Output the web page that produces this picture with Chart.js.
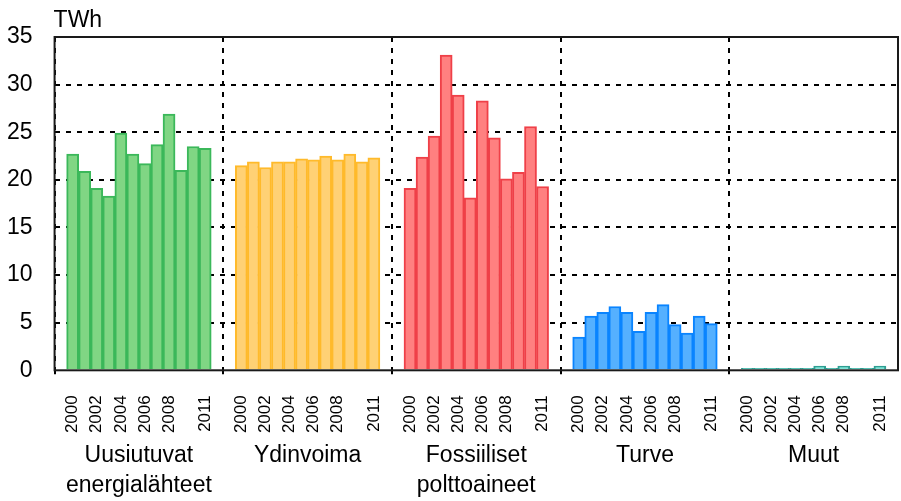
<!DOCTYPE html>
<html>
<head>
<meta charset="utf-8">
<script src="https://cdn.jsdelivr.net/npm/chart.js@4/dist/chart.umd.min.js"></script>
<style>
  html, body { margin: 0; padding: 0; background: #fff; }
  #wrap { width: 901px; height: 501px; }
</style>
</head>
<body>
<div id="wrap"><canvas id="energyChart"></canvas></div>
<script>
// vuodet ja ryhmät
var years = ['2000', '2001', '2002', '2003', '2004', '2005', '2006', '2007', '2008', '2009', '2010', '2011'];
var shownYears = ['2000', '2002', '2004', '2006', '2008', '2011'];
var groupNames = [['Uusiutuvat', 'energialähteet'], 'Ydinvoima', ['Fossiiliset', 'polttoaineet'], 'Turve', 'Muut'];

// TWh
var uusiutuvat  = [22.7, 20.9, 19.1, 18.3, 24.9, 22.7, 21.7, 23.7, 26.9, 21.0, 23.5, 23.3];
var ydinvoima   = [21.5, 21.9, 21.3, 21.9, 21.9, 22.2, 22.1, 22.5, 22.1, 22.7, 21.9, 22.3];
var fossiiliset = [19.1, 22.4, 24.6, 33.1, 28.9, 18.1, 28.3, 24.4, 20.1, 20.8, 25.6, 19.3];
var turve       = [3.5, 5.7, 6.1, 6.7, 6.1, 4.1, 6.1, 6.9, 4.8, 3.9, 5.7, 4.9];
var muut        = [0.2, 0.2, 0.2, 0.2, 0.2, 0.2, 0.45, 0.2, 0.45, 0.2, 0.2, 0.45];

var yTicks = [0, 5, 10, 15, 20, 25, 30, 35];

var series = [uusiutuvat, ydinvoima, fossiiliset, turve, muut];
var fills   = ['#80d684', '#ffd175', '#ff8080', '#55b0ff', '#7fe3d6'];
var borders = ['#3bb85a', '#ffba2b', '#ef4048', '#0a84ff', '#2e9e92'];

// each group: one empty slot, 12 years, one empty slot
var slots = years.length + 2;
var labels = [];
for (var g = 0; g < series.length; g++) {
    labels.push('');
    for (var i = 0; i < years.length; i++) labels.push(years[i]);
    labels.push('');
}

var datasets = [];
for (var g = 0; g < series.length; g++) {
    var d = [];
    for (var k = 0; k < labels.length; k++) d.push(null);
    for (var i = 0; i < years.length; i++) d[g * slots + 1 + i] = series[g][i];
    datasets.push({
        label: Array.isArray(groupNames[g]) ? groupNames[g].join(' ') : groupNames[g],
        data: d,
        backgroundColor: fills[g],
        borderColor: borders[g],
        borderWidth: 2,
        grouped: false,
        barPercentage: 1,
        categoryPercentage: 1
    });
}

// chart.js reserves tick padding twice, take one back
function fitX(scale) {
    scale.paddingLeft = 0;
    scale.paddingRight = 0;
    scale.height -= scale.options.ticks.padding;
}

var framePlugin = {
    id: 'frame',
    afterDraw: function(chart) {
        var a = chart.chartArea, ctx = chart.ctx;
        ctx.save();
        ctx.strokeStyle = '#1a1a1a';
        ctx.lineWidth = 2;
        ctx.strokeRect(a.left, a.top, a.right - a.left, a.bottom - a.top);
        ctx.fillStyle = '#000';
        ctx.font = '23px "Liberation Sans", Arial, sans-serif';
        ctx.textAlign = 'left';
        ctx.textBaseline = 'alphabetic';
        ctx.fillText('TWh', a.left - 1, 27);
        ctx.restore();
    }
};

var ctx = document.getElementById('energyChart');
var chart = new Chart(ctx, {
    type: 'bar',
    data: { labels: labels, datasets: datasets },
    plugins: [framePlugin],
    options: {
        responsive: true,
        maintainAspectRatio: false,
        animation: false,
        layout: { padding: { left: 7, right: 3, top: 37, bottom: 1 } },
        plugins: { legend: { display: false }, title: { display: false } },
        scales: {
            x: {
                offset: true,
                afterFit: fitX,
                grid: {
                    offset: true,
                    lineWidth: 2,
                    color: function(c) { return (c.index % slots === 0) ? '#000' : 'rgba(0,0,0,0)'; },
                    tickColor: function(c) { return (c.index % slots === 0) ? '#000' : 'rgba(0,0,0,0)'; },
                    tickLength: 4,
                    tickWidth: 2
                },
                border: { display: false, dash: [5, 6] },
                ticks: {
                    autoSkip: false,
                    minRotation: 90,
                    maxRotation: 90,
                    padding: 21,
                    color: '#000',
                    font: { family: '"Liberation Sans", Arial, sans-serif', size: 17 },
                    callback: function(value) {
                        var lbl = this.getLabelForValue(value);
                        return shownYears.indexOf(lbl) >= 0 ? lbl : '';
                    }
                }
            },
            x2: {
                type: 'category',
                position: 'bottom',
                labels: groupNames,
                offset: true,
                afterFit: fitX,
                grid: { display: false, drawTicks: false },
                border: { display: false },
                ticks: {
                    autoSkip: false,
                    maxRotation: 0,
                    minRotation: 0,
                    padding: 8,
                    color: '#000',
                    font: { family: '"Liberation Sans", Arial, sans-serif', size: 23, lineHeight: 1.28 }
                }
            },
            y: {
                min: 0,
                max: 35,
                afterFit: function(scale) { scale.width -= scale.options.ticks.padding; },
                grid: {
                    lineWidth: 2,
                    drawTicks: false,
                    color: function(c) {
                        var v = c.tick ? c.tick.value : 0;
                        return (v > 0 && v < 35) ? '#000' : 'rgba(0,0,0,0)';
                    }
                },
                border: { display: false, dash: [5, 6] },
                afterBuildTicks: function(scale) {
                    scale.ticks = yTicks.map(function(v) { return { value: v }; });
                },
                ticks: {
                    padding: 22,
                    color: '#000',
                    font: { family: '"Liberation Sans", Arial, sans-serif', size: 23 }
                }
            }
        }
    }
});
</script>
</body>
</html>
